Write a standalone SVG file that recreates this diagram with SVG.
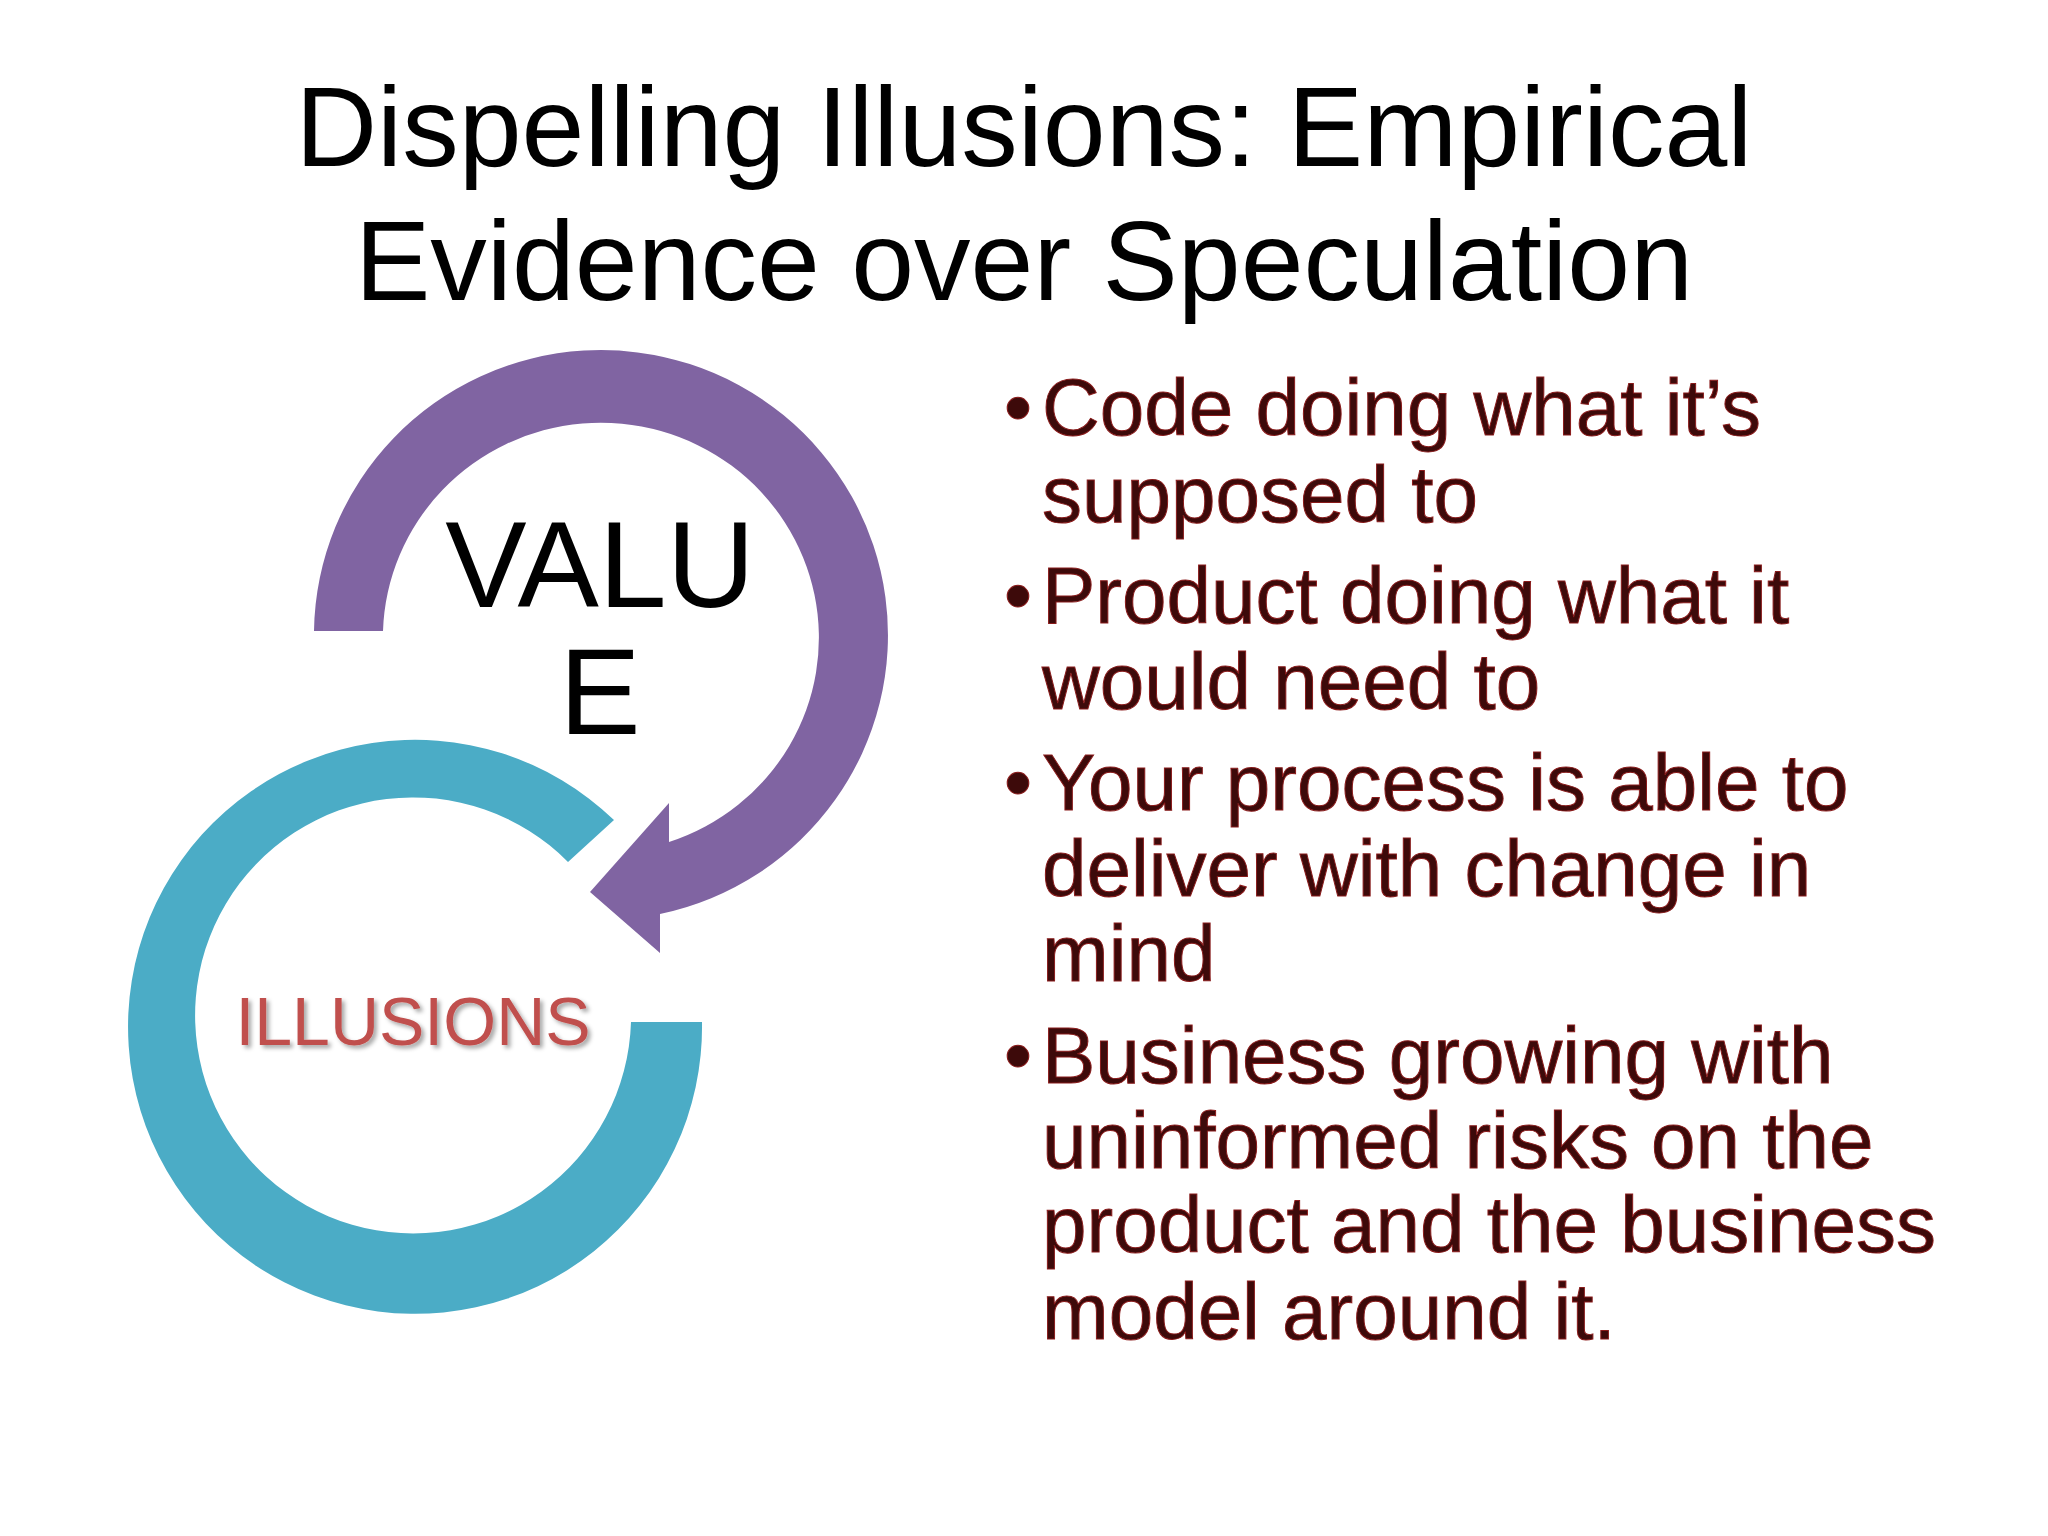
<svg xmlns="http://www.w3.org/2000/svg" width="2048" height="1536" viewBox="0 0 2048 1536">
<defs>
<style>
.t{font-family:"Liberation Sans",Arial,sans-serif;fill:#000}
.b{font-family:"Liberation Sans",Arial,sans-serif;font-size:80px;fill:#3d0a0a;stroke:#8a1a1a;stroke-width:1}
</style>
<filter id="sh" x="-10%" y="-10%" width="130%" height="140%"><feDropShadow dx="3" dy="3" stdDeviation="2" flood-color="#000" flood-opacity="0.35"/></filter>
</defs>
<rect width="2048" height="1536" fill="#fff"/>
<g id="title">
<text class="t" x="1024" y="166" font-size="113" text-anchor="middle">Dispelling Illusions: Empirical</text>
<text class="t" x="1024" y="300" font-size="113" text-anchor="middle">Evidence over Speculation</text>
</g>
<g id="connectors">
<path d="M314 631 A287 285 0 1 1 660 914 L660 953 L590 892 L669 803 L669 842 A218 215 0 1 0 383 631 Z" fill="#8064A2"/>
</g>
<g id="illusions">
<path d="M702 1022 A287 287 0 1 1 614 820 L568 862 A218 218 0 1 0 631 1022 Z" fill="#4BACC6"/>
<text x="413" y="1045" font-family="Liberation Sans,Arial,sans-serif" font-size="68" fill="#C0504D" text-anchor="middle" filter="url(#sh)">ILLUSIONS</text>
</g>
<g id="value">
<text class="t" x="600" y="607" font-size="122" text-anchor="middle">VALU</text>
<text class="t" x="600" y="734" font-size="122" text-anchor="middle">E</text>
</g>
<g id="bullets">
<text class="b" x="1004" y="435">•</text><text class="b" x="1042" y="435">Code doing what it’s</text>
<text class="b" x="1042" y="522">supposed to</text>
<text class="b" x="1004" y="623">•</text><text class="b" x="1042" y="623">Product doing what it</text>
<text class="b" x="1042" y="709">would need to</text>
<text class="b" x="1004" y="810">•</text><text class="b" x="1042" y="810">Your process is able to</text>
<text class="b" x="1042" y="896">deliver with change in</text>
<text class="b" x="1042" y="981">mind</text>
<text class="b" x="1004" y="1083">•</text><text class="b" x="1042" y="1083">Business growing with</text>
<text class="b" x="1042" y="1168">uninformed risks on the</text>
<text class="b" x="1042" y="1252">product and the business</text>
<text class="b" x="1042" y="1339">model around it.</text>
</g>
</svg>
